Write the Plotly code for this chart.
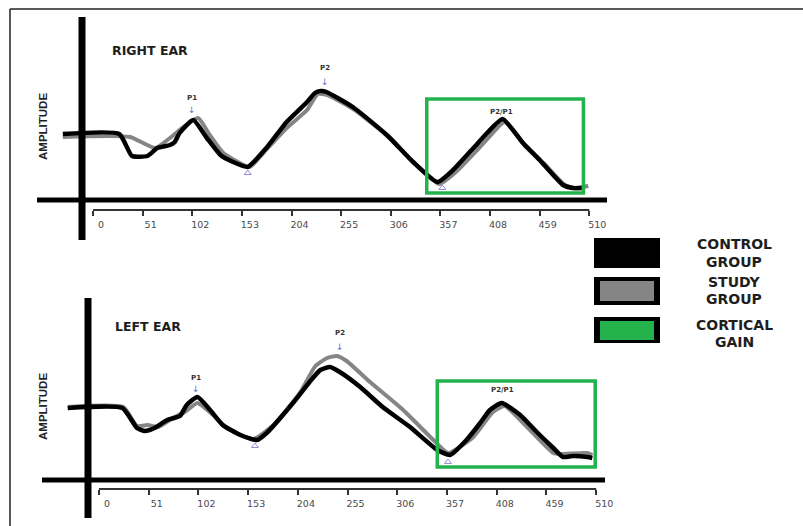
import plotly.graph_objects as go

W, H = 803, 526

# ---------------- data ----------------
TICK_VALUES = [0, 51, 102, 153, 204, 255, 306, 357, 408, 459, 510]
TICK_LABELS = [str(v) for v in TICK_VALUES]

PANEL_NAMES = ["RIGHT EAR", "LEFT EAR"]
SERIES_NAMES = ["CONTROL GROUP", "STUDY GROUP", "CORTICAL GAIN"]
Y_LABEL = "AMPLITUDE"
PEAK_NAMES = ["P1", "P2", "P2/P1"]

# Right ear - control group (latency ms, amplitude a.u.)
R_CONTROL_T = [-31, 27, 40, 56, 66, 79, 84, 89, 103, 117, 131, 144, 159, 179, 199, 220,
               228, 234, 240, 267, 302, 329, 354, 370, 391, 405, 421, 442, 459, 483, 493, 504]
R_CONTROL_A = [0.1, 0.1, -2.1, -2.1, -1.3, -1.0, -0.7, 0.2, 1.5, -0.3, -2.0, -2.7, -3.2, -1.2, 1.3, 3.3,
               4.2, 4.4, 4.3, 2.8, 0.0, -2.7, -4.7, -3.5, -1.3, 0.2, 1.6, -0.8, -2.5, -5.0, -5.3, -5.3]
# Right ear - study group
R_STUDY_T = [-31, 38, 64, 79, 93, 108, 120, 134, 161, 175, 199, 220, 231, 241, 269, 305,
             331, 356, 373, 394, 408, 423, 444, 463, 485, 495, 509]
R_STUDY_A = [-0.2, -0.2, -1.3, -0.3, 0.8, 1.7, 0.0, -1.8, -3.2, -1.8, 0.7, 2.5, 4.1, 4.0, 2.5, -0.3,
             -2.9, -4.9, -3.7, -1.6, -0.1, 1.3, -1.1, -2.8, -5.0, -5.3, -5.1]
# Left ear - control group
L_CONTROL_T = [-32, 24, 39, 47, 57, 70, 83, 90, 101, 114, 127, 145, 162, 172, 199, 216,
               227, 237, 247, 268, 291, 319, 347, 360, 377, 391, 401, 413, 432, 449, 466, 476,
               486, 501, 506]
L_CONTROL_A = [-0.1, -0.1, -2.1, -2.4, -2.1, -1.3, -0.9, 0.2, 1.0, -0.3, -1.8, -2.8, -3.3, -2.6, 0.4, 2.5,
               3.7, 4.0, 3.5, 2.0, 0.0, -2.0, -4.3, -4.8, -3.3, -1.6, -0.3, 0.4, -0.8, -2.5, -4.1, -5.0,
               -4.9, -5.0, -5.1]
# Left ear - study group
L_STUDY_T = [-32, 25, 39, 50, 61, 76, 88, 101, 117, 131, 158, 179, 206, 222, 234, 244,
             254, 278, 312, 343, 358, 384, 404, 416, 439, 466, 473, 501, 506]
L_STUDY_A = [0.0, 0.0, -1.9, -1.8, -2.0, -1.1, -0.5, 0.4, -0.8, -2.1, -3.2, -1.8, 1.4, 4.1, 4.9, 5.1,
             4.6, 2.5, -0.3, -3.3, -4.6, -3.0, -0.5, 0.1, -2.0, -4.6, -4.7, -4.6, -4.8]

# peak / trough latencies marked on the waveforms
R_PEAK_T = [102, 238, 420]
L_PEAK_T = [100, 247, 414]
R_TROUGH_T = [159, 359]
L_TROUGH_T = [160, 358]
# cortical gain window (ms)
R_GAIN_WIN = [343, 504]
L_GAIN_WIN = [347, 509]

# ---------------- styling / positions ----------------
BLACK = "#000000"
GRAY = "#858585"
GREEN = "#23b24b"
BLUE = "#6b6bd6"
TXT = "#1e1e1e"


def px(x):
    return x / W


def py(y):
    return 1 - y / H


fig = go.Figure()

panels = [
    dict(xa="x", ya="y", ctl=(R_CONTROL_T, R_CONTROL_A), stu=(R_STUDY_T, R_STUDY_A)),
    dict(xa="x2", ya="y2", ctl=(L_CONTROL_T, L_CONTROL_A), stu=(L_STUDY_T, L_STUDY_A)),
]
for p in panels:
    fig.add_trace(go.Scatter(x=p["stu"][0], y=p["stu"][1], xaxis=p["xa"], yaxis=p["ya"],
                             mode="lines", name=SERIES_NAMES[1], hoverinfo="skip",
                             line=dict(color=GRAY, width=4, shape="spline", smoothing=0.5)))
    fig.add_trace(go.Scatter(x=p["ctl"][0], y=p["ctl"][1], xaxis=p["xa"], yaxis=p["ya"],
                             mode="lines", name=SERIES_NAMES[0], hoverinfo="skip",
                             line=dict(color=BLACK, width=4.5, shape="spline", smoothing=0.5)))

# trough markers
fig.add_trace(go.Scatter(x=R_TROUGH_T, y=[-3.8, -5.3], xaxis="x", yaxis="y", mode="markers",
                         hoverinfo="skip", marker=dict(symbol="triangle-up-open", size=6,
                                                       color="#8f8fd8", line=dict(width=1))))
fig.add_trace(go.Scatter(x=L_TROUGH_T, y=[-3.9, -5.5], xaxis="x2", yaxis="y2", mode="markers",
                         hoverinfo="skip", marker=dict(symbol="triangle-up-open", size=6,
                                                       color="#8f8fd8", line=dict(width=1))))

shapes = []
# outer frame (top and left edges)
shapes.append(dict(type="line", xref="paper", yref="paper", x0=px(10), x1=1.0, y0=py(9), y1=py(9),
                   line=dict(color="#222", width=1.5)))
shapes.append(dict(type="line", xref="paper", yref="paper", x0=px(10), x1=px(10), y0=py(9), y1=0,
                   line=dict(color="#222", width=1.5)))

# thick axes
for (vx, vy0, vy1, hy, hx0, hx1) in [(82, 17, 240, 200, 37, 607), (88, 298, 518, 480, 42, 605)]:
    shapes.append(dict(type="line", xref="paper", yref="paper", x0=px(vx), x1=px(vx),
                       y0=py(vy0), y1=py(vy1), line=dict(color=BLACK, width=7)))
    shapes.append(dict(type="line", xref="paper", yref="paper", x0=px(hx0), x1=px(hx1),
                       y0=py(hy), y1=py(hy), line=dict(color=BLACK, width=5)))

# rulers
for xa, ry in [("x", 210), ("x2", 489)]:
    shapes.append(dict(type="line", xref=xa, yref="paper", x0=TICK_VALUES[0], x1=TICK_VALUES[-1],
                       y0=py(ry), y1=py(ry), line=dict(color="#333", width=2)))

# cortical gain windows
shapes.append(dict(type="rect", xref="x", yref="y", x0=R_GAIN_WIN[0], x1=R_GAIN_WIN[1],
                   y0=-5.8, y1=3.6, line=dict(color=GREEN, width=3.5)))
shapes.append(dict(type="rect", xref="x2", yref="y2", x0=L_GAIN_WIN[0], x1=L_GAIN_WIN[1],
                   y0=-6.0, y1=2.6, line=dict(color=GREEN, width=3.5)))

# legend boxes
shapes.append(dict(type="rect", xref="paper", yref="paper", x0=px(594), x1=px(660),
                   y0=py(238), y1=py(268), fillcolor=BLACK, line=dict(width=0)))
for (oy0, oy1, iy0, iy1, col) in [(277, 305, 281, 301, GRAY), (317, 343, 321, 340, GREEN)]:
    shapes.append(dict(type="rect", xref="paper", yref="paper", x0=px(594), x1=px(660),
                       y0=py(oy0), y1=py(oy1), fillcolor=BLACK, line=dict(width=0)))
    shapes.append(dict(type="rect", xref="paper", yref="paper", x0=px(600), x1=px(654),
                       y0=py(iy0), y1=py(iy1), fillcolor=col, line=dict(width=0)))

ann = []
LBL = dict(family="DejaVu Sans", size=12.5, color=TXT)
# panel names
for name, (x, y) in zip(PANEL_NAMES, [(110, 50), (113, 326)]):
    ann.append(dict(xref="paper", yref="paper", x=px(x), y=py(y), text="<b>%s</b>" % name,
                    showarrow=False, xanchor="left", yanchor="middle", font=LBL))
# y labels
for y in [127, 407]:
    ann.append(dict(xref="paper", yref="paper", x=px(43), y=py(y), text="<b>%s</b>" % Y_LABEL,
                    showarrow=False, textangle=-90, xanchor="center", yanchor="middle",
                    font=dict(family="Liberation Sans", size=11.5, color=TXT)))

# peak labels and arrows
PK = dict(family="DejaVu Sans", size=7, color="#333")
AR = dict(family="DejaVu Sans", size=9, color=BLUE)
for xa, ya, pts, lab_y, arr_y in [
    ("x", "y", R_PEAK_T, [3.7, 6.7, 2.3], [2.5, 5.3]),
    ("x2", "y2", L_PEAK_T, [2.9, 7.4, 1.7], [1.8, 6.0]),
]:
    for i, name in enumerate(PEAK_NAMES):
        ann.append(dict(xref=xa, yref=ya, x=pts[i], y=lab_y[i], text="<b>%s</b>" % name,
                        showarrow=False, font=PK))
        if i < 2:
            ann.append(dict(xref=xa, yref=ya, x=pts[i], y=arr_y[i], text="↓",
                            showarrow=False, font=AR))

# legend texts (two lines per entry)
LG = dict(family="DejaVu Sans", size=14, color=TXT)
leg_lines = [(SERIES_NAMES[0].split(" "), 244, 261),
             (SERIES_NAMES[1].split(" "), 281, 298),
             (SERIES_NAMES[2].split(" "), 324, 341)]
for words, y1, y2 in leg_lines:
    for w, yy in zip(words, [y1, y2]):
        ann.append(dict(xref="paper", yref="paper", x=px(734), y=py(yy), text="<b>%s</b>" % w,
                        showarrow=False, xanchor="center", yanchor="middle", font=LG,
                        height=15, valign="middle"))

AX = dict(domain=[0, 1], anchor="free", showgrid=False, zeroline=False, showline=False,
          tickmode="array", tickvals=TICK_VALUES, ticktext=TICK_LABELS, ticks="outside",
          ticklen=5, tickwidth=2, tickcolor="#333", ticklabelshift=8, ticklabelstandoff=1,
          tickfont=dict(family="DejaVu Sans", size=9.5, color="#4a4a4a"), fixedrange=True)

fig.update_layout(
    width=W, height=H, margin=dict(l=0, r=0, t=0, b=0),
    paper_bgcolor="white", plot_bgcolor="rgba(0,0,0,0)", showlegend=False,
    xaxis=dict(AX, range=[-95.6, 729.7], position=py(210)),
    yaxis=dict(domain=[0.5, 1], range=[-12.8, 13.5], visible=False, fixedrange=True),
    xaxis2=dict(AX, range=[-101.5, 722.1], position=py(489)),
    yaxis2=dict(domain=[0, 0.5], range=[-11.9, 14.4], visible=False, fixedrange=True),
    shapes=shapes, annotations=ann,
)

fig.write_html("out.html", config={"displayModeBar": False},
               post_script="document.body.style.margin='0px';"
                           "document.documentElement.style.overflow='hidden';")
